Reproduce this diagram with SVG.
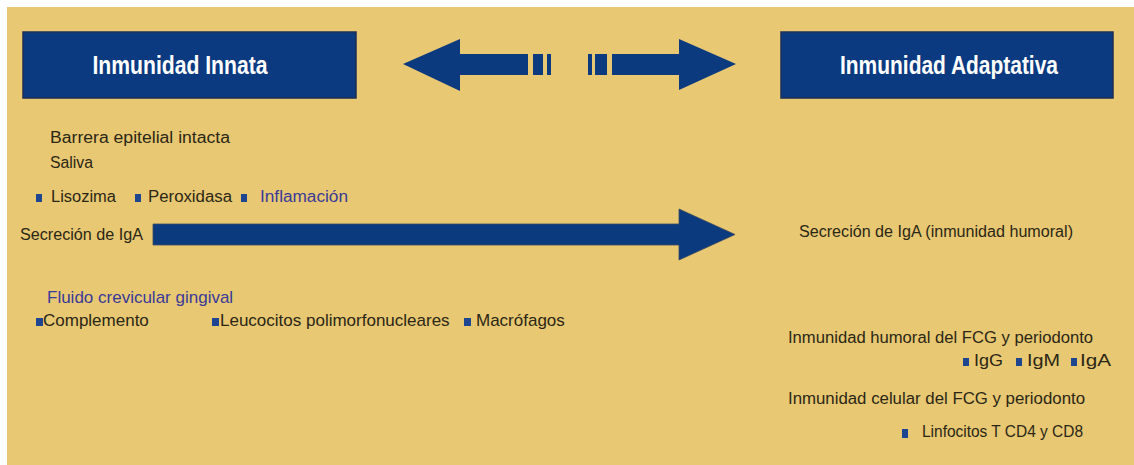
<svg xmlns="http://www.w3.org/2000/svg" width="1134" height="465" viewBox="0 0 1134 465">
<style>
.hdr{fill:#0B3A80;stroke:#1d2f55;stroke-width:1.5}
.ht{font-family:"Liberation Sans",Arial,sans-serif;font-weight:bold;font-size:25px;fill:#FFFFFF;text-anchor:middle}
.t{font-family:"Liberation Sans",Arial,sans-serif;font-size:16px;fill:#2b2716}
.t17{font-family:"Liberation Sans",Arial,sans-serif;font-size:17px;fill:#2b2716}
.b{fill:#3a3a98}
.arr{fill:#0C3A7E}
.sq{fill:#1E4590}
</style>
<rect x="0" y="0" width="1134" height="465" fill="#FFFFFF"/>
<rect x="7" y="7" width="1127" height="458" fill="#E8C872"/>
<g id="innata">
<rect class="hdr" x="23" y="32" width="333" height="66"/>
<text class="ht" x="180" y="74" textLength="175" lengthAdjust="spacingAndGlyphs">Inmunidad Innata</text>
</g>
<g id="adaptativa">
<rect class="hdr" x="781" y="32" width="332" height="66"/>
<text class="ht" x="949" y="74" textLength="218" lengthAdjust="spacingAndGlyphs">Inmunidad Adaptativa</text>
</g>
<g id="connectors">
<path class="arr" d="M403,64 L460,39 L460,54 L528,54 L528,75 L460,75 L460,91 Z"/>
<rect class="arr" x="533" y="54" width="10" height="21"/>
<rect class="arr" x="547" y="54" width="4" height="21"/>
<rect class="arr" x="588" y="54" width="4" height="21"/>
<rect class="arr" x="595" y="54" width="12" height="21"/>
<path class="arr" d="M736,64 L679,39 L679,54 L612,54 L612,75 L679,75 L679,90 Z"/>
<path class="arr" d="M153,224 L679,224 L679,209 L735,234.5 L679,260 L679,245 L153,245 Z" stroke="#3a4a60" stroke-width="0.8"/>
</g>
<g id="innata-items">
<text class="t" x="50" y="143" textLength="180" lengthAdjust="spacingAndGlyphs">Barrera epitelial intacta</text>
<text class="t" x="50" y="168" textLength="43" lengthAdjust="spacingAndGlyphs">Saliva</text>
<rect class="sq" x="36" y="194" width="6" height="8"/>
<text class="t" x="51" y="202" textLength="65" lengthAdjust="spacingAndGlyphs">Lisozima</text>
<rect class="sq" x="135" y="194" width="6" height="8"/>
<text class="t" x="148" y="202" textLength="84" lengthAdjust="spacingAndGlyphs">Peroxidasa</text>
<rect class="sq" x="241" y="194" width="6" height="8"/>
<text class="t b" x="260" y="202" textLength="88" lengthAdjust="spacingAndGlyphs">Inflamación</text>
<text class="t" x="20" y="240" textLength="123" lengthAdjust="spacingAndGlyphs">Secreción de IgA</text>
<text class="t17 b" x="47" y="303">Fluido crevicular gingival</text>
<rect class="sq" x="36" y="318" width="7" height="8"/>
<text class="t17" x="43" y="326">Complemento</text>
<rect class="sq" x="212" y="318" width="7" height="8"/>
<text class="t17" x="220" y="326">Leucocitos polimorfonucleares</text>
<rect class="sq" x="464" y="318" width="7" height="8"/>
<text class="t17" x="476" y="326">Macrófagos</text>
</g>
<g id="adaptativa-items">
<text class="t" x="799" y="237" textLength="274" lengthAdjust="spacingAndGlyphs">Secreción de IgA (inmunidad humoral)</text>
<text class="t" x="788" y="343" textLength="305" lengthAdjust="spacingAndGlyphs">Inmunidad humoral del FCG y periodonto</text>
<rect class="sq" x="963" y="358" width="6" height="8"/>
<text class="t" x="974" y="366" textLength="29" lengthAdjust="spacingAndGlyphs">IgG</text>
<rect class="sq" x="1016" y="358" width="6" height="8"/>
<text class="t" x="1027" y="366" textLength="33" lengthAdjust="spacingAndGlyphs">IgM</text>
<rect class="sq" x="1071" y="358" width="6" height="8"/>
<text class="t" x="1080" y="366" textLength="31" lengthAdjust="spacingAndGlyphs">IgA</text>
<text class="t" x="788" y="404" textLength="297" lengthAdjust="spacingAndGlyphs">Inmunidad celular del FCG y periodonto</text>
<rect class="sq" x="902" y="429" width="6" height="9"/>
<text class="t" x="922" y="437" textLength="161" lengthAdjust="spacingAndGlyphs">Linfocitos T CD4 y CD8</text>
</g>
</svg>
